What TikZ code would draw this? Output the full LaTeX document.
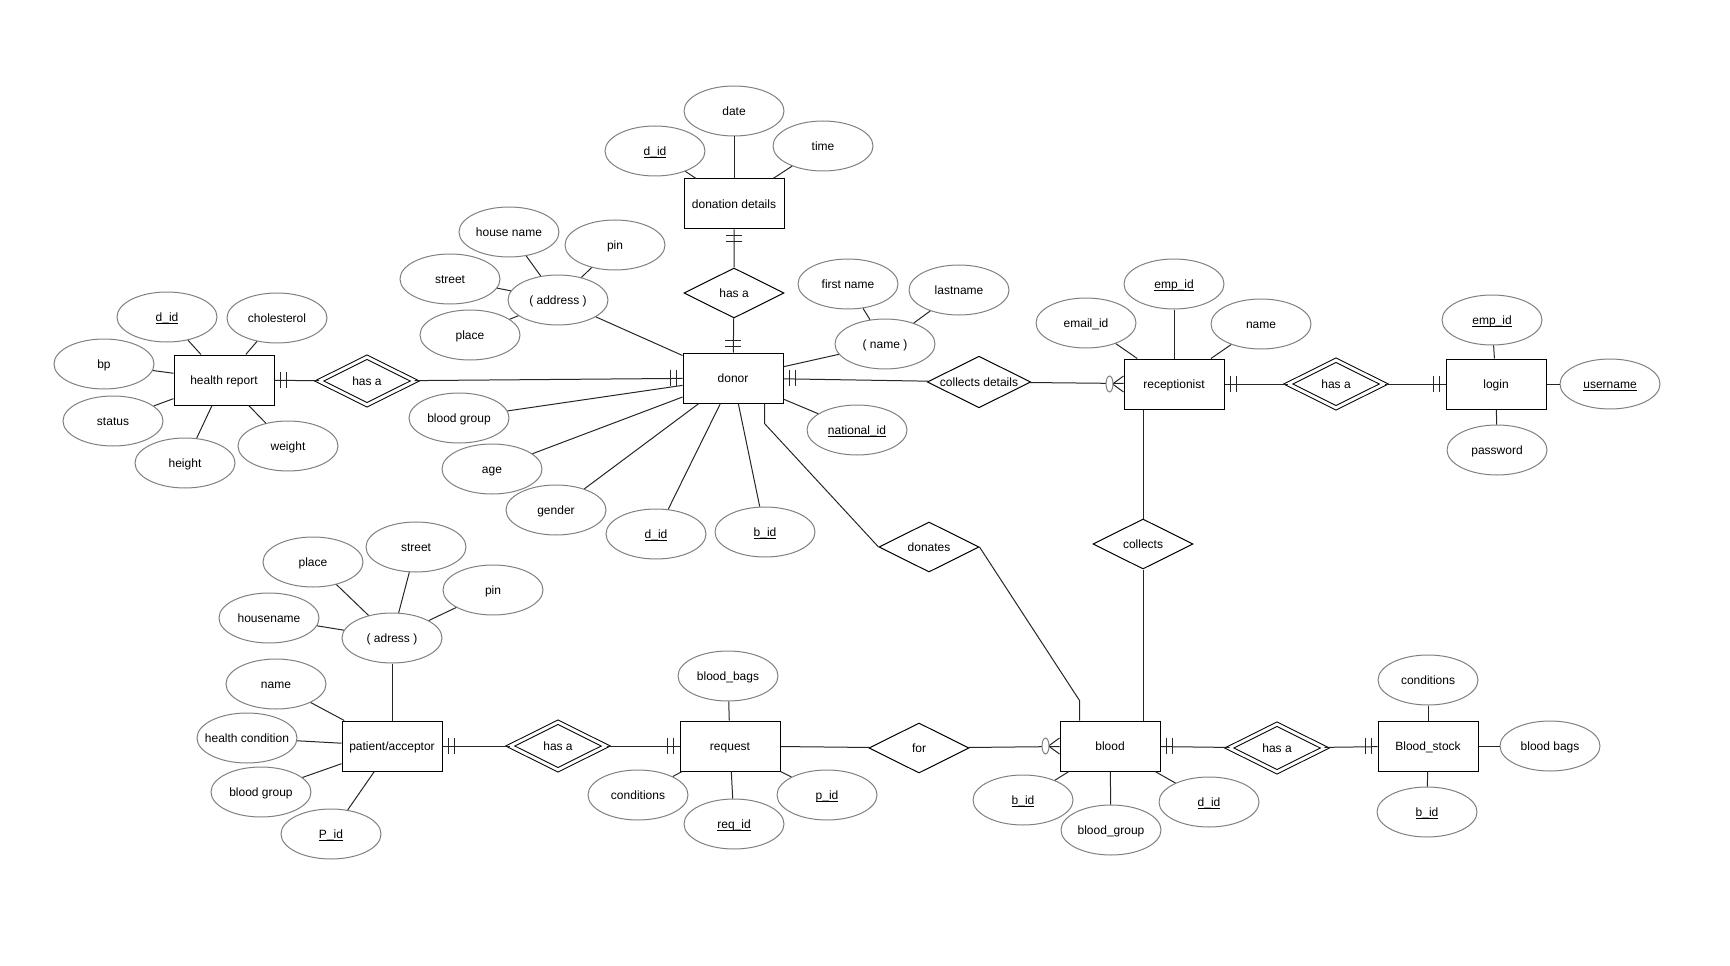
\documentclass[tikz,border=0pt]{standalone}
\usepackage{fontspec}
\setmainfont{Liberation Sans}
\usetikzlibrary{shapes.geometric,calc}

\newcommand{\pk}[1]{\underline{\smash{#1}}}

\tikzset{
  entity/.style={draw,line width=0.75pt,minimum width=75pt,minimum height=37.5pt,inner sep=0pt,fill=white,text height=8pt,text depth=1.5pt},
  attr/.style={ellipse,draw=black!50,line width=0.75pt,minimum width=75pt,minimum height=37.5pt,inner xsep=-14pt,inner ysep=0pt,fill=white,text height=8pt,text depth=1.5pt},
  rel/.style={diamond,draw,line width=0.75pt,aspect=2,minimum width=75pt,minimum height=37.5pt,inner sep=0pt,fill=white,text height=8pt,text depth=1.5pt},
  weakrel/.style={rel,double,double distance=2.2pt,minimum width=72pt,minimum height=36pt},
  conn/.style={line width=0.75pt,black!85}
}

\begin{document}
\begin{tikzpicture}[x=0.75pt,y=-0.75pt,font=\fontsize{9}{11}\selectfont]
  \useasboundingbox (0,0) rectangle (1730,966);

  % entities
  \node[entity] (hr) at (224,380) {health report};
  \node[entity] (donor) at (733,378) {donor};
  \node[entity] (dd) at (734,204) {donation details};
  \node[entity] (recep) at (1174,384) {receptionist};
  \node[entity] (login) at (1496,384) {login};
  \node[entity] (patient) at (392,746) {patient/acceptor};
  \node[entity] (request) at (730,746) {request};
  \node[entity] (blood) at (1110,746) {blood};
  \node[entity] (stock) at (1428,746) {Blood\_stock};

  % relationships
  \node[weakrel] (hashr) at (367,381) {has a};
  \node[rel] (hasdd) at (734,293) {has a};
  \node[rel] (cd) at (979,382) {collects details};
  \node[weakrel] (hasrl) at (1336,384) {has a};
  \node[rel] (collects) at (1143,544) {collects};
  \node[rel] (donates) at (929,547) {donates};
  \node[weakrel] (haspr) at (558,746) {has a};
  \node[rel] (relfor) at (919,748) {for};
  \node[weakrel] (hasbs) at (1277,748) {has a};

  % attributes
  \node[attr] (hrdid) at (167,317) {\pk{d\_id}};
  \node[attr] (hrchol) at (277,318) {cholesterol};
  \node[attr] (hrbp) at (104,364) {bp};
  \node[attr] (hrstat) at (113,421) {status};
  \node[attr] (hrhgt) at (185,463) {height};
  \node[attr] (hrwgt) at (288,446) {weight};

  \node[attr] (addr) at (558,300) {( address )};
  \node[attr] (addrhouse) at (509,232) {house name};
  \node[attr] (addrpin) at (615,245) {pin};
  \node[attr] (addrstreet) at (450,279) {street};
  \node[attr] (addrplace) at (470,335) {place};
  \node[attr] (dbgrp) at (459,418) {blood group};
  \node[attr] (dage) at (492,469) {age};
  \node[attr] (dgender) at (556,510) {gender};
  \node[attr] (ddid) at (656,534) {\pk{d\_id}};
  \node[attr] (dbid) at (765,532) {\pk{b\_id}};
  \node[attr] (dnat) at (857,430) {\pk{national\_id}};
  \node[attr] (dname) at (885,344) {( name )};
  \node[attr] (dfirst) at (848,284) {first name};
  \node[attr] (dlast) at (959,290) {lastname};

  \node[attr] (dddid) at (655,151) {\pk{d\_id}};
  \node[attr] (dddate) at (734,111) {date};
  \node[attr] (ddtime) at (823,146) {time};

  \node[attr] (remail) at (1086,323) {email\_id};
  \node[attr] (rempid) at (1174,284) {\pk{emp\_id}};
  \node[attr] (rname) at (1261,324) {name};

  \node[attr] (lempid) at (1492,320) {\pk{emp\_id}};
  \node[attr] (luser) at (1610,384) {\pk{username}};
  \node[attr] (lpass) at (1497,450) {password};

  \node[attr] (padr) at (392,638) {( adress )};
  \node[attr] (pplace) at (313,562) {place};
  \node[attr] (pstreet) at (416,547) {street};
  \node[attr] (ppin) at (493,590) {pin};
  \node[attr] (phouse) at (269,618) {housename};
  \node[attr] (pname) at (276,684) {name};
  \node[attr] (phealth) at (247,738) {health condition};
  \node[attr] (pbgrp) at (261,792) {blood group};
  \node[attr] (ppid) at (331,834) {\pk{P\_id}};

  \node[attr] (qbags) at (728,676) {blood\_bags};
  \node[attr] (qcond) at (638,795) {conditions};
  \node[attr] (qreq) at (734,824) {\pk{req\_id}};
  \node[attr] (qpid) at (827,795) {\pk{p\_id}};

  \node[attr] (bbid) at (1023,800) {\pk{b\_id}};
  \node[attr] (bbgrp) at (1111,830) {blood\_group};
  \node[attr] (bdid) at (1209,802) {\pk{d\_id}};

  \node[attr] (scond) at (1428,680) {conditions};
  \node[attr] (sbags) at (1550,746) {blood bags};
  \node[attr] (sbid) at (1427,812) {\pk{b\_id}};

  % attribute lines
  \foreach \a/\b in {hrdid/hr,hrchol/hr,hrbp/hr,hrstat/hr,hrhgt/hr,hrwgt/hr,
    addr/donor,addrhouse/addr,addrpin/addr,addrstreet/addr,addrplace/addr,
    dbgrp/donor,dage/donor,dgender/donor,ddid/donor,dbid/donor,dnat/donor,
    dname/donor,dfirst/dname,dlast/dname,dddid/dd,dddate/dd,ddtime/dd,
    remail/recep,rempid/recep,rname/recep,lempid/login,luser/login,lpass/login,
    padr/patient,pplace/padr,pstreet/padr,ppin/padr,phouse/padr,
    pname/patient,phealth/patient,pbgrp/patient,ppid/patient,
    qbags/request,qcond/request,qreq/request,qpid/request,
    bbid/blood,bbgrp/blood,bdid/blood,scond/stock,sbags/stock,sbid/stock}
    \draw[conn] (\a) -- (\b);

  % relationship lines
  \draw[conn] (hr) -- (hashr) -- (donor);
  \draw[conn] (donor) -- (hasdd) -- (dd);
  \draw[conn] (donor) -- (cd) -- (recep);
  \draw[conn] (recep) -- (hasrl) -- (login);
  \draw[conn] (patient) -- (haspr) -- (request);
  \draw[conn] (request) -- (relfor) -- (blood);
  \draw[conn] (blood) -- (hasbs) -- (stock);
  \draw[conn] (collects.north |- recep.south) -- (collects.north);
  \draw[conn] (collects.south) -- (collects.south |- blood.north);
  \draw[conn] ($(donor.south east)+(-19,0)$) -- ++(0,20) -- (donates.west);
  \draw[conn] (donates.east) -- ($(blood.north west)+(20,-20)$) -- ($(blood.north west)+(20,0)$);

  % cardinality: one and only one
  \foreach \p/\d in {hr.east/1,donor.west/-1,donor.east/1,recep.east/1,login.west/-1,
    patient.east/1,request.west/-1,blood.east/1,stock.west/-1}
    \foreach \s in {6,12}
      \draw[conn] ($(\p)+({\s*\d},-8)$) -- ++(0,16);
  \foreach \p/\d in {donor.north/-1,dd.south/1}
    \foreach \s in {6,12}
      \draw[conn] ($(\p)+(-8,{\s*\d})$) -- ++(16,0);

  % cardinality: zero or many
  \foreach \p in {recep.west,blood.west} {
    \draw[conn] ($(\p)+(-11,0)$) -- ($(\p)+(0,-8)$);
    \draw[conn] ($(\p)+(-11,0)$) -- ($(\p)+(0,8)$);
    \draw[draw=black!50,line width=0.75pt,fill=white] ($(\p)+(-14,0)$) ellipse [x radius=2.6pt,y radius=6pt];
  }
\end{tikzpicture}
\end{document}
